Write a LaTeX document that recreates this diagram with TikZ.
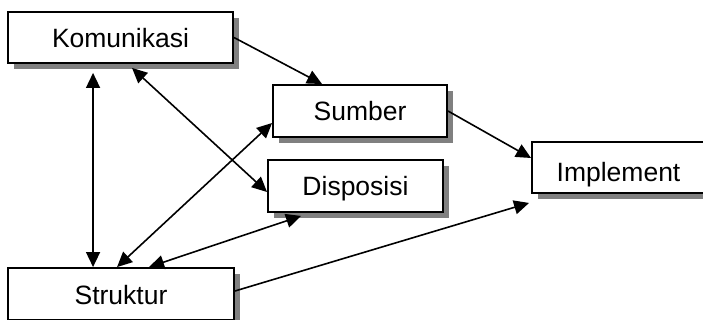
\documentclass[tikz,border=0pt]{standalone}
\usepackage{fontspec}
\setmainfont{Liberation Sans}
\usetikzlibrary{arrows.meta,shadows}

\begin{document}
\begin{tikzpicture}[x=1pt,y=-1pt,>={Triangle[length=15pt,width=14pt]},
    box/.style={draw,line width=1.9pt,fill=white,inner sep=0pt,
      text height=20pt,text depth=0pt,font=\fontsize{26.5}{30}\selectfont,
      drop shadow={shadow xshift=6pt,shadow yshift=-6pt,fill=gray,opacity=1}},
    link/.style={line width=1.6pt}]
    \useasboundingbox (0,0) rectangle (703,320);
    \clip (0,0) rectangle (703,320);
    \node[box,minimum width=225pt,minimum height=51pt] (kom) at (120.5,37.5) {Komunikasi};
    \node[box,minimum width=174pt,minimum height=52pt] (sum) at (360,111) {Sumber};
    \node[box,minimum width=175pt,minimum height=52pt] (dis) at (355.5,186) {Disposisi};
    \node[box,minimum width=173pt,minimum height=51pt,text height=29pt] (imp) at (618.5,167.5) {Implement};
    \node[box,minimum width=226pt,minimum height=52pt] (str) at (121,294) {Struktur};
    \draw[link,->] (kom.east) -- ([xshift=50pt]sum.north west);
    \draw[link,<->] ([xshift=86pt,yshift=-9pt]kom.south west) -- ([xshift=86pt]str.north west);
    \draw[link,<->] ([xshift=125pt,yshift=-4pt]kom.south west) -- ([yshift=-6pt]dis.west);
    \draw[link,<->] ([xshift=110pt]str.north west) -- ([yshift=-12pt]sum.west);
    \draw[link,<->] ([xshift=142pt]str.north west) -- ([xshift=34pt,yshift=-3pt]dis.south west);
    \draw[link,->] ([yshift=3pt]str.east) -- ([xshift=-2pt,yshift=-9pt]imp.south west);
    \draw[link,->] (sum.east) -- ([yshift=9.5pt]imp.west);
\end{tikzpicture}
\end{document}
